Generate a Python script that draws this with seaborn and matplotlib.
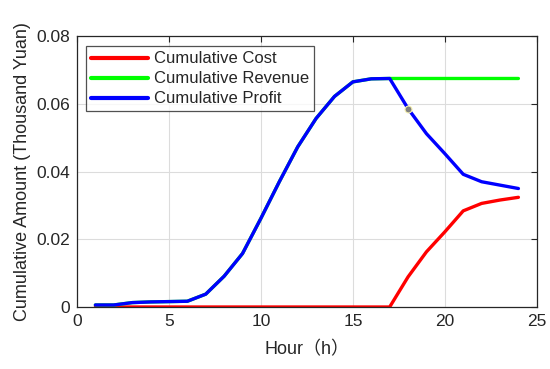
import numpy as np
import pandas as pd
import seaborn as sns
import matplotlib.pyplot as plt
from matplotlib.ticker import FuncFormatter

hours = list(range(1, 25))
profit = [0.0006, 0.0006, 0.0013, 0.0015, 0.0016, 0.0017, 0.0038, 0.0091,
          0.0158, 0.0262, 0.0370, 0.0473, 0.0557, 0.0622, 0.0665, 0.0674,
          0.0675, 0.0586, 0.0512, 0.0453, 0.0392, 0.0370, 0.0360, 0.0350]
cost = [0.0] * 17 + [0.0089, 0.0163, 0.0222, 0.0284, 0.0306, 0.0316, 0.0324]
revenue = profit[:17] + [0.0675] * 7
marker_hour = 18

sns.set_style("white")
plt.rcParams['font.family'] = ['Liberation Sans', 'Noto Sans CJK SC', 'DejaVu Sans']

df = pd.DataFrame({"hour": hours, "Cumulative Cost": cost,
                   "Cumulative Revenue": revenue, "Cumulative Profit": profit})
long = df.melt(id_vars="hour", var_name="series", value_name="amount")

fig, ax = plt.subplots(figsize=(5.5, 3.69), dpi=100)
sns.lineplot(data=long, x="hour", y="amount", hue="series",
             palette={"Cumulative Cost": "#ff0000", "Cumulative Revenue": "#00ff00",
                      "Cumulative Profit": "#0000ff"},
             linewidth=2.4, ax=ax)

# data tip on the profit curve
ax.plot(marker_hour, profit[hours.index(marker_hour)], "o", color="#808080",
        markersize=5, markeredgecolor="#f5f0b0", markeredgewidth=0.8, zorder=5)

ax.set_xlim(0, 25)
ax.set_ylim(0, 0.08)
ax.set_xticks([0, 5, 10, 15, 20, 25])
ax.set_yticks([0, 0.02, 0.04, 0.06, 0.08])
ax.yaxis.set_major_formatter(FuncFormatter(lambda v, p: "0" if v == 0 else f"{v:.2f}"))
ax.grid(True, color="#dcdcdc", linewidth=0.8)
ax.tick_params(direction="in", top=True, right=True, labelsize=12.5, length=4,
               color="#262626", labelcolor="#262626", pad=5)
for s in ax.spines.values():
    s.set_color("#262626")
    s.set_linewidth(0.9)

ax.set_xlabel("Hour（h）", fontsize=13, color="#262626", labelpad=9)
ax.set_ylabel("Cumulative Amount (Thousand Yuan)", fontsize=13, color="#262626", labelpad=4)

leg = ax.legend(loc="upper left", bbox_to_anchor=(0.02, 0.962), borderaxespad=0,
                fontsize=12, handlelength=3.4, frameon=True,
                fancybox=False, edgecolor="#262626",
                handletextpad=0.35, labelspacing=0.3, borderpad=0.3)
leg.get_frame().set_linewidth(0.9)
for line in leg.get_lines():
    line.set_linewidth(3)

fig.subplots_adjust(left=0.14, right=0.976, top=0.902, bottom=0.168)
fig.savefig("out.png", dpi=100)
